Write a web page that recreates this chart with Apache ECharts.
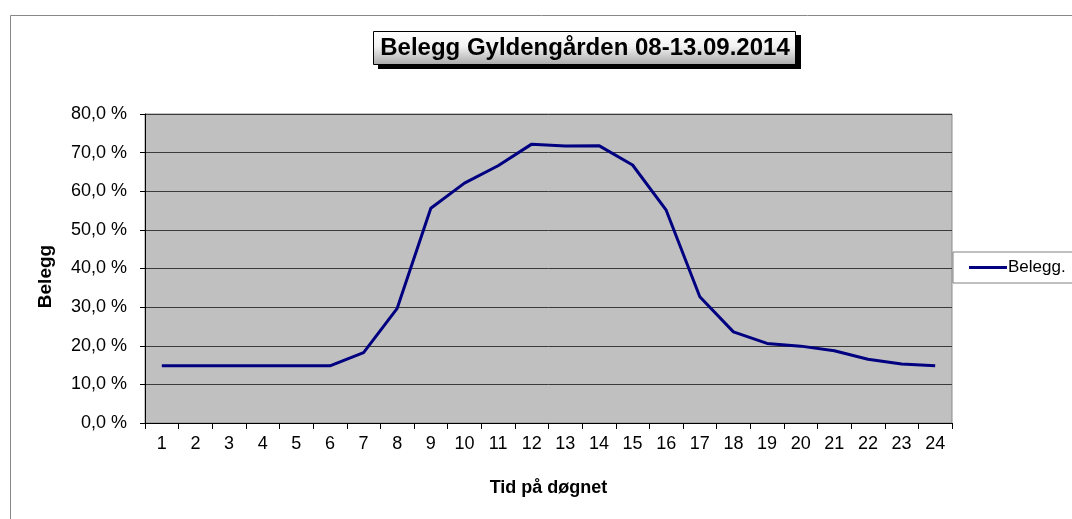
<!DOCTYPE html>
<html>
<head>
<meta charset="utf-8">
<script src="https://cdn.jsdelivr.net/npm/echarts@6/dist/echarts.min.js"></script>
<style>
  html, body { margin: 0; padding: 0; background: #fff; }
  #chart { width: 1072px; height: 519px; }
</style>
</head>
<body>
<div id="chart"></div>
<script>
// Hours of the day
const hours = ['1', '2', '3', '4', '5', '6', '7', '8', '9', '10', '11', '12',
  '13', '14', '15', '16', '17', '18', '19', '20', '21', '22', '23', '24'];

// Occupancy in percent
const occupancy = [14.8, 14.8, 14.8, 14.8, 14.8, 14.8, 18.2, 29.7, 55.6, 62.1, 66.6, 72.2,
  71.7, 71.8, 66.8, 55.1, 32.7, 23.6, 20.6, 19.9, 18.7, 16.5, 15.3, 14.8];

const titleText = 'Belegg Gyldengården 08-13.09.2014';
const font = 'Liberation Sans, Arial, sans-serif';

const chartDom = document.getElementById('chart');
const myChart = echarts.init(chartDom);

const option = {
    animation: false,
    backgroundColor: '#fff',
    legend: {
        data: ['Belegg.'],
        left: 953,
        top: 252,
        padding: [7, 40, 7, 16],
        borderColor: '#808080',
        borderWidth: 1,
        backgroundColor: '#fff',
        itemWidth: 38,
        itemHeight: 3,
        icon: 'rect',
        textStyle: { fontFamily: font, fontSize: 17, color: '#000', padding: [0, 0, 0, -4] }
    },
    graphic: [
        // outer chart frame
        {
            type: 'rect',
            shape: { x: 10.5, y: 15.5, width: 1200, height: 600 },
            style: { fill: 'none', stroke: '#888', lineWidth: 1 },
            z: -10
        },
        // title box with drop shadow
        {
            type: 'rect',
            shape: { x: 378, y: 35, width: 423, height: 34 },
            style: { fill: '#000' },
            z: 10
        },
        {
            type: 'rect',
            shape: { x: 373.5, y: 31.5, width: 422, height: 33 },
            style: {
                fill: new echarts.graphic.LinearGradient(0, 0, 0, 1, [
                    { offset: 0, color: '#ffffff' },
                    { offset: 0.45, color: '#f2f2f2' },
                    { offset: 1, color: '#a8a8a8' }
                ]),
                stroke: '#000',
                lineWidth: 1
            },
            z: 11
        },
        {
            type: 'text',
            x: 585,
            y: 48,
            style: {
                text: titleText,
                fontFamily: font,
                fontSize: 24,
                fontWeight: 'bold',
                fill: '#000',
                align: 'center',
                verticalAlign: 'middle'
            },
            z: 12
        }
    ],
    grid: {
        left: 145,
        right: 120,
        top: 114,
        bottom: 96,
        show: true,
        backgroundColor: '#c0c0c0',
        borderColor: '#8a8a8a',
        borderWidth: 1
    },
    xAxis: {
        type: 'category',
        data: hours,
        boundaryGap: true,
        name: 'Tid på døgnet',
        nameLocation: 'middle',
        nameGap: 56,
        nameTextStyle: { fontFamily: font, fontSize: 18, fontWeight: 'bold', color: '#000' },
        axisLine: { show: true, lineStyle: { color: '#000', width: 1 } },
        axisTick: { show: true, interval: 0, length: 6, lineStyle: { color: '#000' } },
        axisLabel: { interval: 0, margin: 12, fontFamily: font, fontSize: 18, color: '#000' },
        splitLine: { show: false }
    },
    yAxis: {
        type: 'value',
        min: 0,
        max: 80,
        interval: 10,
        name: 'Belegg',
        nameLocation: 'middle',
        nameGap: 90,
        nameTextStyle: {
            fontFamily: font, fontSize: 19, fontWeight: 'bold', color: '#000',
            padding: [0, 16, 0, 0]
        },
        axisLine: { show: true, lineStyle: { color: '#000', width: 1 } },
        axisTick: { show: true, length: 5, lineStyle: { color: '#000' } },
        axisLabel: {
            margin: 18,
            fontFamily: font,
            fontSize: 18,
            color: '#000',
            formatter: v => v.toFixed(1).replace('.', ',') + ' %'
        },
        splitLine: { show: true, lineStyle: { color: '#3a3a3a', width: 1 } }
    },
    series: [
        {
            name: 'Belegg.',
            type: 'line',
            data: occupancy,
            symbol: 'none',
            lineStyle: { color: '#000080', width: 3 },
            itemStyle: { color: '#000080' }
        }
    ]
};

myChart.setOption(option);
</script>
</body>
</html>
